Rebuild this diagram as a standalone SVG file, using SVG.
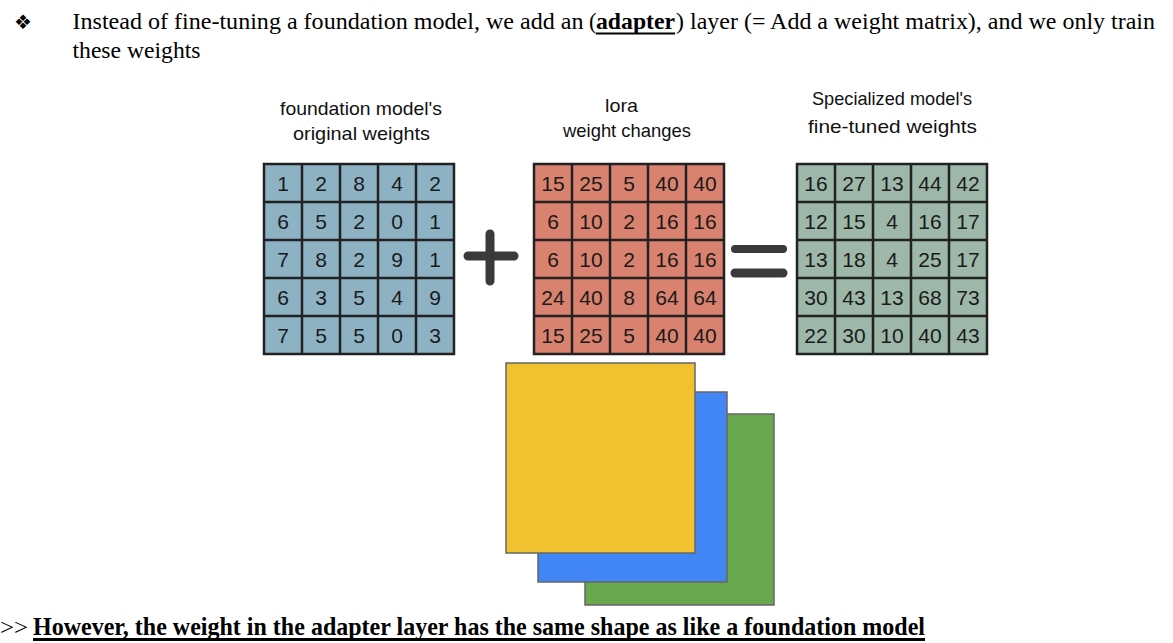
<svg xmlns="http://www.w3.org/2000/svg" width="1173" height="643" viewBox="0 0 1173 643">
<style>
.t{font-family:"Liberation Serif","Times New Roman",serif;font-size:22.5px;fill:#000}
.b{font-weight:bold}
.lbl{font-family:"Liberation Sans Narrow","Liberation Sans",Arial,sans-serif;font-size:19px;fill:#111}
.d{font-family:"Liberation Sans Narrow","Liberation Sans",Arial,sans-serif;font-size:21px;fill:#1a1a1a;text-anchor:middle}
.grid{fill:none;stroke:#222;stroke-width:2.5}
.op{stroke:#3a3a3a;stroke-linecap:round;fill:none}
.sq{stroke:#666;stroke-width:1.5}
</style>
<rect width="1173" height="643" fill="#fff"/>

<g id="header">
<text x="14" y="29" style="font-family:'DejaVu Sans',sans-serif;font-size:20px">❖</text>
<text class="t" x="72.5" y="29" textLength="511" lengthAdjust="spacingAndGlyphs">Instead of fine-tuning a foundation model, we add an</text>
<text class="t" x="589" y="29">(</text>
<text class="t b" x="596" y="29" textLength="79" lengthAdjust="spacingAndGlyphs">adapter</text>
<line x1="596" y1="33.5" x2="675" y2="33.5" stroke="#000" stroke-width="2"/>
<text class="t" x="676" y="29" textLength="479" lengthAdjust="spacingAndGlyphs">) layer (= Add a weight matrix), and we only train</text>
<text class="t" x="72.5" y="58" textLength="128" lengthAdjust="spacingAndGlyphs">these weights</text>
</g>

<g id="foundation-matrix">
<text class="lbl" x="280" y="115" textLength="162" lengthAdjust="spacingAndGlyphs">foundation model's</text>
<text class="lbl" x="293" y="140" textLength="137" lengthAdjust="spacingAndGlyphs">original weights</text>
<rect x="264" y="164" width="190" height="190" fill="#8DB2C4"/>
<path class="grid" d="M264 164h190v190h-190zM302 164v190M340 164v190M378 164v190M416 164v190M264 202h190M264 240h190M264 278h190M264 316h190"/>
<text class="d" x="283" y="191">1</text><text class="d" x="321" y="191">2</text><text class="d" x="359" y="191">8</text><text class="d" x="397" y="191">4</text><text class="d" x="435" y="191">2</text>
<text class="d" x="283" y="229">6</text><text class="d" x="321" y="229">5</text><text class="d" x="359" y="229">2</text><text class="d" x="397" y="229">0</text><text class="d" x="435" y="229">1</text>
<text class="d" x="283" y="267">7</text><text class="d" x="321" y="267">8</text><text class="d" x="359" y="267">2</text><text class="d" x="397" y="267">9</text><text class="d" x="435" y="267">1</text>
<text class="d" x="283" y="305">6</text><text class="d" x="321" y="305">3</text><text class="d" x="359" y="305">5</text><text class="d" x="397" y="305">4</text><text class="d" x="435" y="305">9</text>
<text class="d" x="283" y="343">7</text><text class="d" x="321" y="343">5</text><text class="d" x="359" y="343">5</text><text class="d" x="397" y="343">0</text><text class="d" x="435" y="343">3</text>
</g>

<g id="plus">
<path class="op" d="M468 256H514M490 234V281" stroke-width="9"/>
</g>

<g id="lora-matrix">
<text class="lbl" x="605" y="112" textLength="33" lengthAdjust="spacingAndGlyphs">lora</text>
<text class="lbl" x="563" y="137" textLength="128" lengthAdjust="spacingAndGlyphs">weight changes</text>
<rect x="534" y="164" width="190" height="190" fill="#D9826F"/>
<path class="grid" d="M534 164h190v190h-190zM572 164v190M610 164v190M648 164v190M686 164v190M534 202h190M534 240h190M534 278h190M534 316h190"/>
<text class="d" x="553" y="191">15</text><text class="d" x="591" y="191">25</text><text class="d" x="629" y="191">5</text><text class="d" x="667" y="191">40</text><text class="d" x="705" y="191">40</text>
<text class="d" x="553" y="229">6</text><text class="d" x="591" y="229">10</text><text class="d" x="629" y="229">2</text><text class="d" x="667" y="229">16</text><text class="d" x="705" y="229">16</text>
<text class="d" x="553" y="267">6</text><text class="d" x="591" y="267">10</text><text class="d" x="629" y="267">2</text><text class="d" x="667" y="267">16</text><text class="d" x="705" y="267">16</text>
<text class="d" x="553" y="305">24</text><text class="d" x="591" y="305">40</text><text class="d" x="629" y="305">8</text><text class="d" x="667" y="305">64</text><text class="d" x="705" y="305">64</text>
<text class="d" x="553" y="343">15</text><text class="d" x="591" y="343">25</text><text class="d" x="629" y="343">5</text><text class="d" x="667" y="343">40</text><text class="d" x="705" y="343">40</text>
</g>

<g id="equals">
<path class="op" d="M735 249H783" stroke-width="8"/>
<path class="op" d="M735 273H783" stroke-width="9"/>
</g>

<g id="finetuned-matrix">
<text class="lbl" x="812" y="105" textLength="160" lengthAdjust="spacingAndGlyphs">Specialized model's</text>
<text class="lbl" x="808" y="133" textLength="169" lengthAdjust="spacingAndGlyphs">fine-tuned weights</text>
<rect x="797" y="164" width="190" height="190" fill="#9DB8A8"/>
<path class="grid" d="M797 164h190v190h-190zM835 164v190M873 164v190M911 164v190M949 164v190M797 202h190M797 240h190M797 278h190M797 316h190"/>
<text class="d" x="816" y="191">16</text><text class="d" x="854" y="191">27</text><text class="d" x="892" y="191">13</text><text class="d" x="930" y="191">44</text><text class="d" x="968" y="191">42</text>
<text class="d" x="816" y="229">12</text><text class="d" x="854" y="229">15</text><text class="d" x="892" y="229">4</text><text class="d" x="930" y="229">16</text><text class="d" x="968" y="229">17</text>
<text class="d" x="816" y="267">13</text><text class="d" x="854" y="267">18</text><text class="d" x="892" y="267">4</text><text class="d" x="930" y="267">25</text><text class="d" x="968" y="267">17</text>
<text class="d" x="816" y="305">30</text><text class="d" x="854" y="305">43</text><text class="d" x="892" y="305">13</text><text class="d" x="930" y="305">68</text><text class="d" x="968" y="305">73</text>
<text class="d" x="816" y="343">22</text><text class="d" x="854" y="343">30</text><text class="d" x="892" y="343">10</text><text class="d" x="930" y="343">40</text><text class="d" x="968" y="343">43</text>
</g>

<g id="adapter-layers">
<rect class="sq" x="585" y="414" width="189" height="191" fill="#6AA84F"/>
<rect class="sq" x="538" y="392" width="189" height="190" fill="#4285F4"/>
<rect class="sq" x="506" y="363" width="189" height="190" fill="#F0C230"/>
</g>

<g id="connectors"></g>

<g id="footer">
<text class="t" x="0" y="635" textLength="28" lengthAdjust="spacingAndGlyphs">&gt;&gt;</text>
<text class="t b" x="33" y="635" style="font-size:25px" textLength="892" lengthAdjust="spacingAndGlyphs">However, the weight in the adapter layer has the same shape as like a foundation model</text>
<line x1="33" y1="639.5" x2="925" y2="639.5" stroke="#000" stroke-width="3"/>
</g>
</svg>
